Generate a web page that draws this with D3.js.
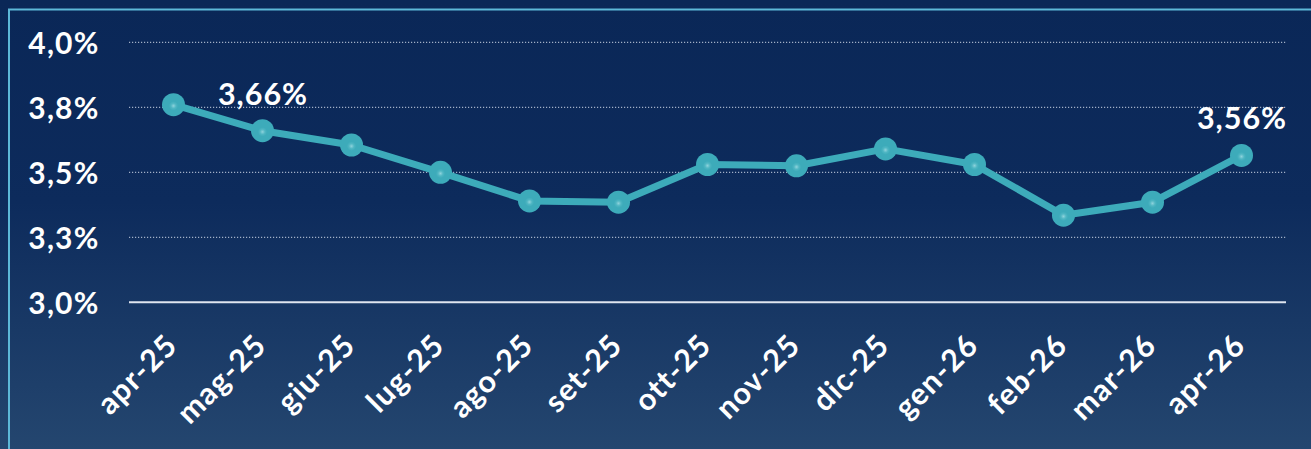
<!DOCTYPE html>
<html>
<head>
<meta charset="utf-8">
<script src="https://cdn.jsdelivr.net/npm/d3@7"></script>
<style>
  html, body { margin: 0; padding: 0; background: #0b2858; }
  svg { display: block; }
</style>
</head>
<body>
<svg id="chart" width="1311" height="449"></svg>
<script>
// data
const months = ['apr-25','mag-25','giu-25','lug-25','ago-25','set-25','ott-25','nov-25','dic-25','gen-26','feb-26','mar-26','apr-26'];
const rates = [3.76, 3.66, 3.605, 3.50, 3.39, 3.385, 3.53, 3.525, 3.59, 3.53, 3.335, 3.385, 3.565];
const yTicks = [3.0, 3.25, 3.5, 3.75, 4.0];
const yTickLabels = ['3,0%', '3,3%', '3,5%', '3,8%', '4,0%'];
const pointLabels = [null, '3,66%', null, null, null, null, null, null, null, null, null, null, '3,56%'];

const width = 1311, height = 449;
const plotL = 129, plotR = 1286, plotT = 42.3, plotB = 302.3;
const font = 'Lato, "Open Sans", sans-serif';
const teal = '#3dabba';

const svg = d3.select('#chart');
const defs = svg.append('defs');

const bg = defs.append('linearGradient').attr('id', 'bg').attr('x1', 0).attr('y1', 0).attr('x2', 0).attr('y2', 1);
bg.append('stop').attr('offset', '0%').attr('stop-color', '#0a2757');
bg.append('stop').attr('offset', '45%').attr('stop-color', '#0d2b5c');
bg.append('stop').attr('offset', '100%').attr('stop-color', '#24466f');

const dot = defs.append('radialGradient').attr('id', 'dot').attr('cx', '0.5').attr('cy', '0.55').attr('r', '0.5');
dot.append('stop').attr('offset', '0%').attr('stop-color', '#8fd3dc');
dot.append('stop').attr('offset', '22%').attr('stop-color', '#4fb6c3');
dot.append('stop').attr('offset', '40%').attr('stop-color', teal);
dot.append('stop').attr('offset', '100%').attr('stop-color', teal);

svg.append('rect').attr('width', width).attr('height', height).attr('fill', 'url(#bg)');
// frame
svg.append('path')
  .attr('d', `M9,${height + 5} V9.5 H${width + 5}`)
  .attr('fill', 'none').attr('stroke', '#5cb8d8').attr('stroke-width', 2);

const x = d3.scaleBand().domain(months).range([plotL, plotR]);
const y = d3.scaleLinear().domain([3.0, 4.0]).range([plotB, plotT]);

// gridlines
svg.append('g')
  .selectAll('line')
  .data(yTicks.filter(d => d > 3.0))
  .join('line')
  .attr('x1', plotL).attr('x2', plotR)
  .attr('y1', d => y(d)).attr('y2', d => y(d))
  .attr('stroke', '#c9d2e3').attr('stroke-width', 1)
  .attr('stroke-dasharray', '1.2,1.8');

svg.append('line')
  .attr('x1', plotL).attr('x2', plotR)
  .attr('y1', y(3.0)).attr('y2', y(3.0))
  .attr('stroke', '#dfe5ef').attr('stroke-width', 2);

// y axis
const yAxis = svg.append('g')
  .attr('transform', 'translate(99.5,0)')
  .call(d3.axisLeft(y).tickValues(yTicks).tickSize(0).tickPadding(0)
    .tickFormat((d, i) => yTickLabels[i]));
yAxis.select('.domain').remove();
yAxis.selectAll('text')
  .attr('fill', '#ffffff')
  .attr('font-family', font).attr('font-weight', 700).attr('font-size', 30)
  .attr('letter-spacing', 1.2)
  .attr('dy', '0.36em');

// x axis
const xAxis = svg.append('g')
  .attr('transform', `translate(0,${plotB})`)
  .call(d3.axisBottom(x).tickSize(0).tickPadding(0));
xAxis.select('.domain').remove();
xAxis.selectAll('text')
  .attr('fill', '#ffffff')
  .attr('font-family', font).attr('font-weight', 700).attr('font-size', 30.5)
  .attr('letter-spacing', 1.2)
  .attr('text-anchor', 'end')
  .attr('y', 0).attr('dy', '0.36em')
  .attr('transform', 'translate(-2,37) rotate(-45)');

// line
const line = d3.line()
  .x((d, i) => x(months[i]) + x.bandwidth() / 2)
  .y(d => y(d));

svg.append('path')
  .datum(rates)
  .attr('d', line)
  .attr('fill', 'none')
  .attr('stroke', teal)
  .attr('stroke-width', 7)
  .attr('stroke-linejoin', 'round');

svg.append('g')
  .selectAll('circle')
  .data(rates)
  .join('circle')
  .attr('cx', (d, i) => x(months[i]) + x.bandwidth() / 2)
  .attr('cy', d => y(d))
  .attr('r', 11.5)
  .attr('fill', 'url(#dot)');

// value labels
svg.append('g')
  .selectAll('text')
  .data(rates.map((v, i) => ({ v, i, t: pointLabels[i] })).filter(d => d.t))
  .join('text')
  .attr('x', d => x(months[d.i]) + x.bandwidth() / 2 + 0.5)
  .attr('y', d => y(d.v) - 26)
  .attr('text-anchor', 'middle')
  .attr('fill', '#ffffff')
  .attr('font-family', font).attr('font-weight', 700).attr('font-size', 30.5)
  .attr('letter-spacing', 1)
  .text(d => d.t);
</script>
</body>
</html>
